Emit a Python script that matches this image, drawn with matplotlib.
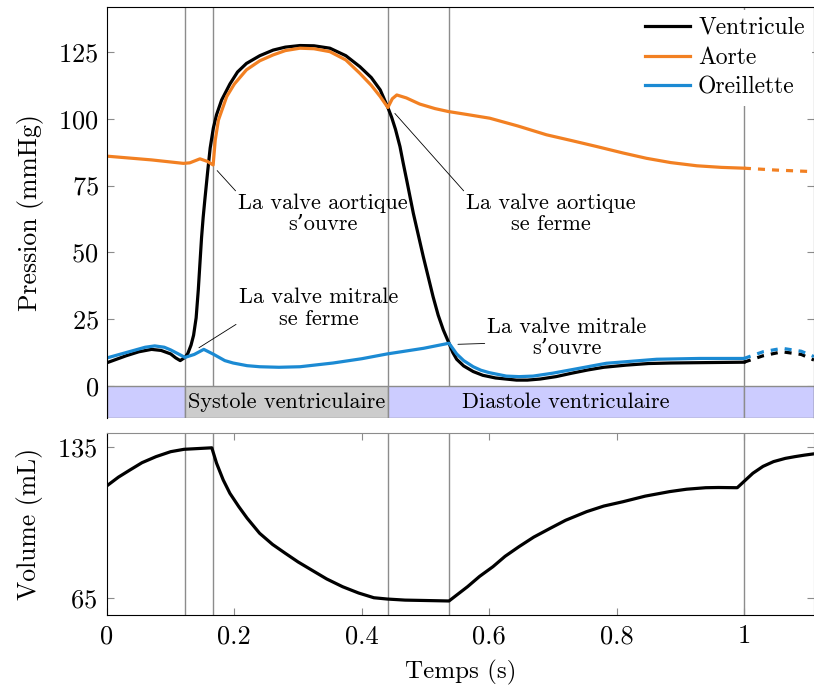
import matplotlib.pyplot as plt
from matplotlib.patches import Rectangle

plt.rcParams['font.family'] = ['cmr10', 'DejaVu Serif']
plt.rcParams['axes.formatter.use_mathtext'] = True
plt.rcParams['mathtext.fontset'] = 'cm'

# ---- pressure (mmHg), solid part of the cycle
t_ventricle = [0.0, 0.03, 0.05, 0.07, 0.085, 0.1, 0.108, 0.115, 0.1225, 0.127,
               0.132, 0.136, 0.14, 0.1434, 0.146, 0.1485, 0.151, 0.1538, 0.158, 0.162,
               0.167, 0.172, 0.18, 0.193, 0.205, 0.219, 0.24, 0.261, 0.28, 0.303,
               0.325, 0.35, 0.375, 0.397, 0.415, 0.429, 0.441, 0.447, 0.453, 0.46,
               0.465, 0.4705, 0.481, 0.4966, 0.512, 0.52, 0.528, 0.537, 0.543, 0.549,
               0.56, 0.575, 0.59, 0.61, 0.643, 0.66, 0.68, 0.705, 0.73, 0.755,
               0.78, 0.815, 0.85, 0.885, 0.92, 0.96, 1.0]
p_ventricle = [8.7, 11.3, 12.8, 13.7, 13.3, 12.0, 10.5, 9.5, 10.7, 12.2,
               15.3, 19.0, 25.5, 36.0, 46.0, 55.5, 63.0, 70.0, 80.0, 89.0,
               96.5, 101.5, 107.0, 113.0, 117.5, 120.7, 123.6, 125.7, 126.8, 127.4,
               127.3, 126.4, 123.6, 119.5, 115.4, 110.8, 104.2, 100.5, 96.0, 89.6,
               83.5, 77.1, 64.6, 48.4, 33.4, 26.5, 21.0, 16.0, 12.5, 10.0,
               7.5, 5.4, 4.0, 3.0, 2.2, 2.2, 2.6, 3.5, 4.8, 6.0,
               7.0, 7.8, 8.4, 8.6, 8.7, 8.8, 8.9]

t_aorta = [0.0, 0.07, 0.12, 0.13, 0.146, 0.158, 0.1667, 0.17, 0.175, 0.188,
           0.2, 0.219, 0.24, 0.261, 0.28, 0.303, 0.325, 0.35, 0.375, 0.397,
           0.415, 0.429, 0.441, 0.448, 0.455, 0.47, 0.491, 0.515, 0.536, 0.565,
           0.601, 0.645, 0.69, 0.73, 0.769, 0.81, 0.847, 0.885, 0.926, 0.965, 1.0]
p_aorta = [86.0, 84.6, 83.3, 83.5, 85.0, 84.0, 82.7, 92.0, 99.5, 108.3,
           113.0, 118.3, 121.7, 123.9, 125.5, 126.4, 126.2, 125.1, 122.0, 117.0,
           112.5, 108.3, 104.2, 107.5, 108.9, 107.8, 105.5, 103.8, 102.7, 101.6,
           100.2, 97.3, 94.0, 91.8, 89.6, 87.2, 85.2, 83.6, 82.4, 81.8, 81.5]

t_atrium = [0.0, 0.03, 0.06, 0.075, 0.09, 0.1, 0.1225, 0.137, 0.152, 0.167,
            0.185, 0.198, 0.22, 0.24, 0.27, 0.303, 0.355, 0.4, 0.44, 0.497,
            0.537, 0.549, 0.56, 0.575, 0.587, 0.6, 0.627, 0.647, 0.669, 0.7,
            0.732, 0.784, 0.863, 0.93, 1.0]
p_atrium = [10.5, 12.5, 14.5, 15.0, 14.5, 13.5, 10.7, 11.8, 13.7, 11.9,
            9.5, 8.6, 7.6, 7.2, 7.0, 7.2, 8.6, 10.2, 12.0, 14.1,
            16.0, 12.0, 9.5, 7.2, 5.9, 5.0, 3.7, 3.5, 3.7, 4.8,
            6.2, 8.5, 10.0, 10.3, 10.3]

# ---- pressure, start of next cycle (dashed)
t_next = [1.0, 1.03, 1.06, 1.09, 1.11]
p_ventricle_next = [8.9, 11.3, 12.8, 11.8, 9.7]
p_atrium_next = [10.3, 12.8, 14.1, 13.0, 11.0]
t_aorta_next = [1.0, 1.05, 1.11]
p_aorta_next = [81.5, 80.8, 80.2]

# ---- ventricular volume (mL)
t_volume = [0.0, 0.018, 0.036, 0.055, 0.077, 0.1, 0.121, 0.1646, 0.172, 0.1825,
            0.193, 0.207, 0.22, 0.2396, 0.26, 0.28, 0.3, 0.321, 0.345, 0.37,
            0.395, 0.419, 0.44, 0.468, 0.537, 0.566, 0.585, 0.606, 0.625, 0.647,
            0.67, 0.696, 0.72, 0.753, 0.78, 0.81, 0.845, 0.8835, 0.91, 0.94,
            0.96, 0.9895, 1.014, 1.03, 1.0465, 1.065, 1.08, 1.095, 1.11]
volume = [117.0, 121.0, 124.3, 127.7, 130.5, 132.8, 133.9, 134.6, 127.5, 119.7,
          113.5, 107.3, 102.0, 95.0, 89.8, 85.7, 81.7, 78.0, 73.8, 70.2,
          67.3, 65.1, 64.5, 64.0, 63.6, 70.2, 75.0, 79.5, 84.3, 88.8,
          93.2, 97.3, 101.0, 105.0, 107.6, 109.6, 112.2, 114.3, 115.4, 116.1,
          116.2, 116.1, 122.8, 126.0, 128.2, 129.7, 130.5, 131.2, 131.8]

# ---- valve events and phases
event_times = [0.1225, 0.1664, 0.441, 0.537, 1.0]
band_edges = [0.0, 0.1225, 0.441, 1.0, 1.11]
band_names = ['', 'Systole ventriculaire', 'Diastole ventriculaire', '']
band_colors = ['#ccccff', '#cccccc', '#ccccff', '#ccccff']

pressure_ticks = [0, 25, 50, 75, 100, 125]
volume_ticks = [65, 135]
time_ticks = [0, 0.2, 0.4, 0.6, 0.8, 1.0]
time_labels = ['0', '0.2', '0.4', '0.6', '0.8', '1']

# text, point, text centre, where the pin meets the text
annotations = [
    ('La valve aortique\ns’ouvre', (0.173, 80.6), (0.339, 64.4), (0.0, 1.0)),
    ('La valve aortique\nse ferme', (0.452, 102.0), (0.697, 64.4), (0.0, 1.0)),
    ('La valve mitrale\nse ferme', (0.1444, 14.3), (0.332, 29.1), (0.075, 0.33)),
    ('La valve mitrale\ns’ouvre', (0.551, 15.6), (0.7224, 18.2), (0.073, 0.36)),
]

black, orange, blue = '#000000', '#f28022', '#1b8ad3'
grid_color = '#8c8c8c'
lw = 2.3
dashed = (0, (2.2, 2.2))
xlim = (0.0, 1.11)
band_bottom = -11.8

fig = plt.figure(figsize=(8.14, 6.9), dpi=100)
ax1 = fig.add_axes([0.1314, 0.3949, 0.8686, 0.5945])
ax2 = fig.add_axes([0.1314, 0.1087, 0.8686, 0.2642])

# -- pressure panel
for t in event_times:
    ax1.axvline(t, color=grid_color, lw=1.0, zorder=1)

for x0, x1, name, color in zip(band_edges[:-1], band_edges[1:], band_names, band_colors):
    ax1.add_patch(Rectangle((x0, band_bottom), x1 - x0, -band_bottom,
                            facecolor=color, edgecolor=grid_color, lw=1.0, zorder=3))
    if name:
        ax1.text((x0 + x1) / 2, band_bottom / 2, name, ha='center', va='center',
                 fontsize=16, zorder=4)

ax1.plot(t_ventricle, p_ventricle, color=black, lw=lw, label='Ventricule', zorder=2)
ax1.plot(t_aorta, p_aorta, color=orange, lw=lw, label='Aorte', zorder=2)
ax1.plot(t_atrium, p_atrium, color=blue, lw=lw, label='Oreillette', zorder=2)
ax1.plot(t_next, p_ventricle_next, color=black, lw=lw, ls=dashed, zorder=2)
ax1.plot(t_aorta_next, p_aorta_next, color=orange, lw=lw, ls=dashed, zorder=2)
ax1.plot(t_next, p_atrium_next, color=blue, lw=lw, ls=dashed, zorder=2)

for text, xy, xytext, relpos in annotations:
    ax1.annotate(text, xy=xy, xytext=xytext, ha='center', va='center',
                 multialignment='center', fontsize=16, linespacing=1.1,
                 arrowprops=dict(arrowstyle='-', color='black', lw=0.6,
                                 shrinkA=0, shrinkB=0, relpos=relpos))

ax1.set_xlim(xlim)
ax1.set_ylim(band_bottom, 141.7)
ax1.set_yticks(pressure_ticks)
ax1.set_xticks([])
ax1.set_ylabel('Pression (mmHg)', fontsize=18.5, labelpad=10)
ax1.tick_params(axis='y', direction='in', length=5, color=grid_color,
                right=True, labelsize=19, pad=6)
ax1.spines['bottom'].set_visible(False)
for side in ['top', 'right', 'left']:
    ax1.spines[side].set_zorder(6)

leg = ax1.legend(loc='upper right', fontsize=17, frameon=True, fancybox=False,
                 facecolor='white', edgecolor='none', framealpha=1.0,
                 borderaxespad=0.1, borderpad=0.3, handlelength=1.9,
                 handletextpad=0.35, labelspacing=0.33)
leg.set_zorder(5)

# -- volume panel
for t in event_times:
    ax2.axvline(t, color=grid_color, lw=1.0, zorder=1)
ax2.plot(t_volume, volume, color=black, lw=lw, zorder=2)

ax2.set_xlim(xlim)
ax2.set_ylim(57.1, 141.6)
ax2.set_yticks(volume_ticks)
ax2.set_xticks(time_ticks)
ax2.set_xticklabels(time_labels)
ax2.set_ylabel('Volume (mL)', fontsize=18.5, labelpad=10)
ax2.set_xlabel('Temps (s)', fontsize=18, labelpad=8)
ax2.tick_params(direction='in', length=5, color=grid_color, right=True, top=True,
                labelsize=19, pad=7)
ax2.spines['top'].set_color(grid_color)
ax2.spines['right'].set_color(grid_color)

fig.align_ylabels([ax1, ax2])
fig.savefig('out.png', dpi=100)
